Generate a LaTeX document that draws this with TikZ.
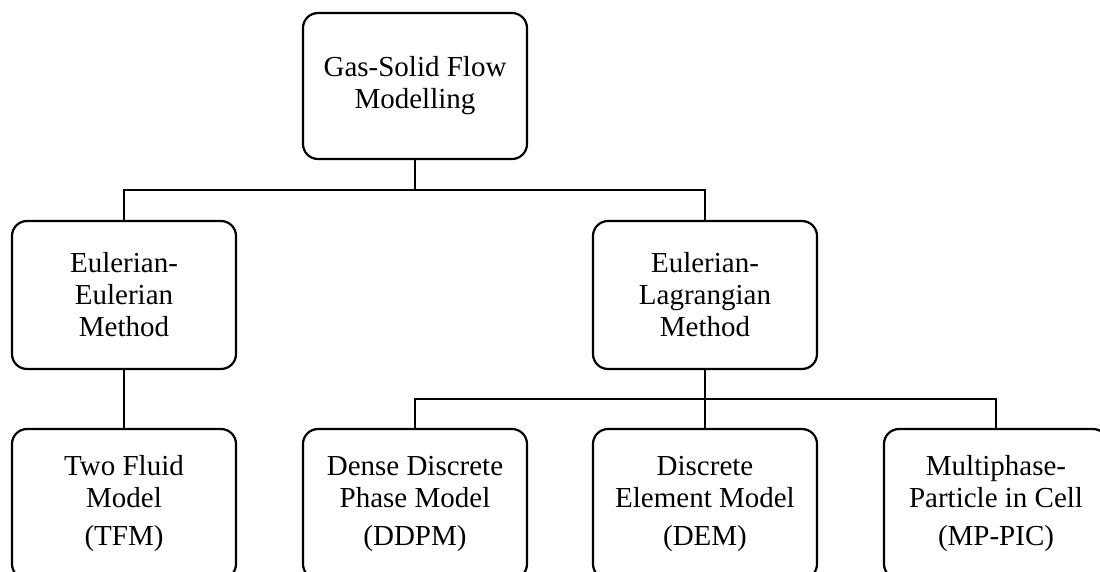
\documentclass[tikz,border=0pt]{standalone}
\usepackage{fontspec}
\setmainfont{Liberation Serif}
\begin{document}
\begin{tikzpicture}[x=1pt,y=-1pt,
  box/.style={draw=black,line width=2.2pt,rounded corners=15pt,
    minimum width=224pt,inner sep=0pt,align=center,
    font=\fontsize{29}{32}\selectfont},
  link/.style={draw=black,line width=2pt}]
\useasboundingbox (0,0) rectangle (1100,572);
\clip (0,0) rectangle (1100,572);
\fill[white] (0,0) rectangle (1100,572);

% root
\node[box,minimum height=146pt] (top) at (415,86) {Gas-Solid Flow\\Modelling};

% second level
\node[box,minimum height=148pt] (ee) at (124,295) {Eulerian-\\Eulerian\\Method};
\node[box,minimum height=148pt] (el) at (705,295) {Eulerian-\\Lagrangian\\Method};

% third level
\node[box,minimum height=150pt] (tfm)   at (124,504) {Two Fluid\\Model\\[6pt](TFM)};
\node[box,minimum height=150pt] (ddpm)  at (415,504) {Dense Discrete\\Phase Model\\[6pt](DDPM)};
\node[box,minimum height=150pt] (dem)   at (705,504) {Discrete\\Element Model\\[6pt](DEM)};
\node[box,minimum height=150pt] (mppic) at (996,504) {Multiphase-\\Particle in Cell\\[6pt](MP-PIC)};

% connectors
\coordinate (j1) at (415,190);
\coordinate (j2) at (705,399);
\draw[link] (top.south) -- (j1);
\draw[link] (ee.north) |- (j1) -| (el.north);
\draw[link] (ee.south) -- (tfm.north);
\draw[link] (el.south) -- (dem.north);
\draw[link] (ddpm.north) |- (j2) -| (mppic.north);
\end{tikzpicture}
\end{document}
